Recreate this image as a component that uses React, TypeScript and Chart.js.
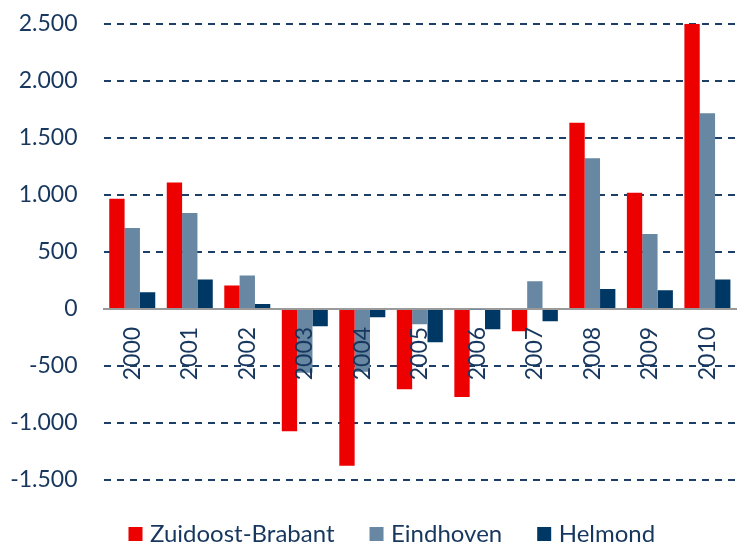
import React, { useEffect, useRef } from "react";
import { Chart, registerables } from "chart.js";

Chart.register(...registerables);

const categories = ["2000", "2001", "2002", "2003", "2004", "2005", "2006", "2007", "2008", "2009", "2010"];
const seriesNames = ["Zuidoost-Brabant", "Eindhoven", "Helmond"];
const zuidoostBrabant = [965, 1108, 205, -1073, -1375, -705, -772, -196, 1632, 1018, 2500];
const eindhoven = [710, 842, 292, -560, -550, -135, -3, 242, 1321, 658, 1716];
const helmond = [146, 257, 44, -152, -72, -293, -178, -109, 175, 163, 257];
const yTicks = [-1500, -1000, -500, 0, 500, 1000, 1500, 2000, 2500];

const RED = "#ec0000";
const GRAY = "#6787a3";
const NAVY = "#003865";
const TEXT = "#17375e";
const GRID = "#1c3f68";
const SHIFT = 16;

function fmt(v: number): string {
  const s = Math.abs(v).toString().replace(/\B(?=(\d{3})+(?!\d))/g, ".");
  return (v < 0 ? "-" : "") + s;
}

const legendPlugin = {
  id: "customLegend",
  afterDraw(chart: any) {
    const ctx = chart.ctx;
    ctx.save();
    ctx.font = "24px Lato";
    ctx.textBaseline = "alphabetic";
    ctx.textAlign = "left";
    let x = 128.5;
    const box = 14;
    const yBox = 527 + SHIFT;
    const yText = 542 + SHIFT;
    chart.data.datasets.forEach((ds: any) => {
      ctx.fillStyle = ds.backgroundColor;
      ctx.fillRect(x, yBox, box, box);
      ctx.fillStyle = TEXT;
      const tx = x + box + 7.5;
      ctx.fillText(ds.label, tx, yText);
      x = tx + ctx.measureText(ds.label).width + 35;
    });
    ctx.restore();
  },
};

export default function App() {
  const ref = useRef<HTMLCanvasElement>(null);
  useEffect(() => {
    if (!ref.current) return;
    const chart = new Chart(ref.current, {
      type: "bar",
      data: {
        labels: categories,
        datasets: [
          { label: seriesNames[0], data: zuidoostBrabant, backgroundColor: RED },
          { label: seriesNames[1], data: eindhoven, backgroundColor: GRAY },
          { label: seriesNames[2], data: helmond, backgroundColor: NAVY },
        ],
      },
      options: {
        responsive: false,
        animation: false,
        events: [],
        datasets: { bar: { categoryPercentage: 0.8, barPercentage: 1.0, borderWidth: 0 } },
        layout: { padding: { left: 0, right: 0, top: 8, bottom: 62 } },
        plugins: { legend: { display: false }, tooltip: { enabled: false } },
        scales: {
          x: {
            position: { y: 0 } as any,
            grid: { display: false, drawTicks: false },
            border: { display: true, color: "#9a9a9a", width: 2 },
            ticks: {
              z: 1,
              autoSkip: false,
              minRotation: 90,
              maxRotation: 90,
              padding: 18,
              color: TEXT,
              font: { family: "Lato", size: 23 },
            },
          },
          y: {
            min: -1500,
            max: 2500,
            afterFit: (s: any) => { s.width = 103.5; },
            afterBuildTicks: (s: any) => { s.ticks = yTicks.map((v) => ({ value: v })); },
            border: { display: false, dash: [7, 6] },
            grid: {
              drawTicks: false,
              lineWidth: 2,
              color: (c: any) => (c.tick && c.tick.value === 0 ? "rgba(0,0,0,0)" : GRID),
            },
            ticks: {
              padding: 26,
              color: TEXT,
              font: { family: "Lato", size: 23 },
              callback: (v: any) => fmt(Number(v)),
            },
          },
        },
      },
      plugins: [legendPlugin],
    });
    return () => chart.destroy();
  }, []);
  return (
    <div style={{ position: "fixed", left: 0, top: 0, width: 745, height: 542, overflow: "hidden", background: "#fff" }}>
      <canvas ref={ref} width={753} height={542 + SHIFT} style={{ display: "block", marginTop: -SHIFT }} />
    </div>
  );
}
